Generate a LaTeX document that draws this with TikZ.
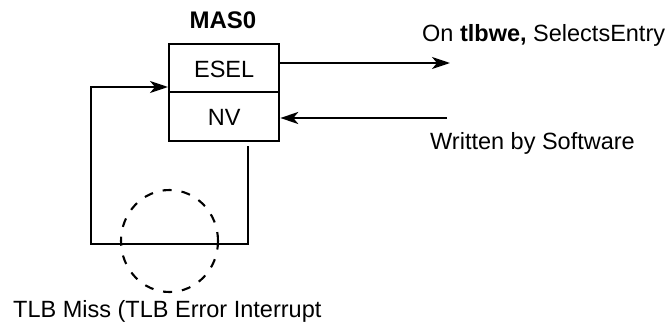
\documentclass[tikz,border=0pt]{standalone}
\usepackage{fontspec}
\setmainfont{Liberation Sans}
\usetikzlibrary{arrows.meta,shapes.geometric}
\begin{document}
\begin{tikzpicture}[x=1pt,y=-1pt,
  every node/.style={font=\fontsize{23.5pt}{28pt}\selectfont, inner sep=0pt},
  reg/.style={draw, line width=2.3pt, minimum width=110pt, anchor=north west},
  wire/.style={line width=2.1pt},
  arr/.style={wire, -{Stealth[length=18pt,width=12pt,inset=5pt]}},
  lbl/.style={anchor=west}]
\useasboundingbox (0,0) rectangle (671,329);
\node[reg, minimum height=48pt] (esel) at (168,43) {};
\node[reg, minimum height=49pt] (nv) at (168,91) {};
\node at (esel.center) [yshift=-1pt] {ESEL};
\node at (nv.center) [yshift=-1pt] {NV};
\node[font=\fontsize{24pt}{28pt}\selectfont\bfseries] (title) at (223,20) {MAS0};
\node[lbl] (sel) at (422,35) {On \textbf{tlbwe,} SelectsEntry};
\node[lbl] (sw) at (430,143) {Written by Software};
\node[lbl] (miss) at (13,311) {TLB Miss (TLB Error Interrupt};
\coordinate (outE) at (450,63);
\coordinate (inN) at (447,118);
\coordinate (lt) at (91,87);
\coordinate (lb) at (91,244);
\coordinate (rb) at (248,244);
\coordinate (rt) at (248,146);
\draw[arr] (esel.east |- outE) -- (outE);
\draw[arr] (inN) -- (nv.east |- inN);
\draw[arr] (rt) -- (rb) -- (lb) -- (lt) -- (esel.west |- lt);
\draw[line width=2.1pt, dash pattern=on 9pt off 10pt] (169.5,241) ellipse [x radius=48.5pt, y radius=51pt];
\end{tikzpicture}
\end{document}
